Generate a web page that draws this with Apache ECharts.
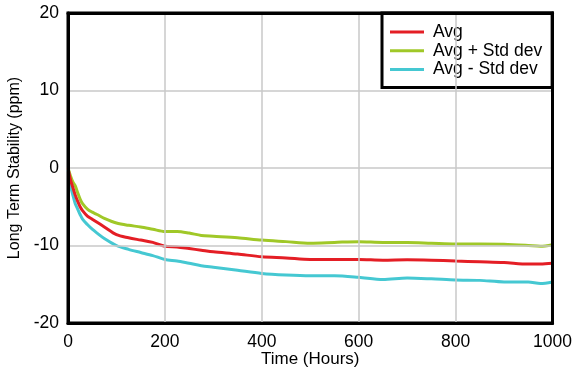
<!DOCTYPE html>
<html>
<head>
<meta charset="utf-8">
<script src="https://cdn.jsdelivr.net/npm/echarts@6/dist/echarts.min.js"></script>
<style>
html,body{margin:0;padding:0;background:#fff;}
#chart{width:577px;height:370px;}
</style>
</head>
<body>
<div id="chart"></div>
<script>
const hours = [0,5,10,15,20,25,30,40,50,60,75,100,125,150,175,200,225,250,275,300,350,400,450,500,550,600,650,700,750,800,850,900,950,975,1000];
const avg = [0,-1.5,-2.5,-3.5,-4.3,-5.0,-5.5,-6.2,-6.6,-7.0,-7.6,-8.6,-9.0,-9.3,-9.6,-10.1,-10.2,-10.4,-10.6,-10.8,-11.1,-11.45,-11.6,-11.8,-11.8,-11.8,-11.9,-11.85,-11.9,-12.0,-12.1,-12.2,-12.4,-12.4,-12.3];
const avgPlus = [0,-1.0,-1.8,-2.3,-3.2,-4.0,-4.6,-5.3,-5.7,-6.0,-6.5,-7.1,-7.4,-7.6,-7.9,-8.2,-8.2,-8.4,-8.7,-8.8,-9.0,-9.3,-9.5,-9.7,-9.6,-9.5,-9.6,-9.6,-9.7,-9.8,-9.8,-9.85,-10.0,-10.1,-9.9];
const avgMinus = [0,-2.2,-3.5,-4.6,-5.3,-6.0,-6.6,-7.3,-7.9,-8.4,-9.1,-10.0,-10.5,-10.9,-11.3,-11.8,-12.0,-12.3,-12.6,-12.8,-13.2,-13.6,-13.8,-13.9,-13.9,-14.1,-14.4,-14.2,-14.3,-14.45,-14.5,-14.7,-14.7,-14.9,-14.7];
const seriesNames = ['Avg','Avg + Std dev','Avg - Std dev'];
const xTicks = [0,200,400,600,800,1000];
const yTicks = [-20,-10,0,10,20];

const pair = (ys) => hours.map((h,i)=>[h, ys[i]]);
const font = '"Liberation Sans", Arial, sans-serif';
const frameLine = {show:true, onZero:false, lineStyle:{color:'#000', width:3}};
const chart = echarts.init(document.getElementById('chart'), null, {renderer:'canvas'});
chart.setOption({
  animation:false,
  backgroundColor:'#fff',
  textStyle:{fontFamily:font, color:'#000'},
  grid:{left:68, top:13, right:24.5, bottom:47, containLabel:false, outerBoundsMode:'none',
        show:true, borderColor:'#000', borderWidth:3, backgroundColor:'transparent'},
  legend:{
    orient:'vertical', left:382, top:13,
    backgroundColor:'#fff', borderColor:'#000', borderWidth:3,
    padding:[10,10,9,8],
    itemWidth:34, itemHeight:3, itemGap:0.7,
    icon:'rect',
    textStyle:{fontFamily:font, fontSize:17.5, lineHeight:18, color:'#000', padding:[0,0,0,4]},
    data:seriesNames
  },
  xAxis:[{
    type:'value', min:xTicks[0], max:xTicks[xTicks.length-1], interval:200,
    name:'Time (Hours)', nameLocation:'middle', nameGap:28, nameMoveOverlap:false,
    nameTextStyle:{fontFamily:font, fontSize:17, color:'#000'},
    axisLine:frameLine, axisTick:{show:false}, z:5,
    axisLabel:{fontFamily:font, fontSize:17.5, color:'#000', margin:10, formatter:(v)=>String(v)},
    splitLine:{show:true, showMinLine:false, showMaxLine:false, lineStyle:{color:'#c8c8c8', width:1.5}}
  },{
    type:'value', position:'top', min:xTicks[0], max:xTicks[xTicks.length-1], interval:200,
    axisLine:frameLine, axisTick:{show:false}, axisLabel:{show:false}, splitLine:{show:false}, z:5
  }],
  yAxis:[{
    type:'value', min:yTicks[0], max:yTicks[yTicks.length-1], interval:10,
    name:'Long Term Stability (ppm)', nameLocation:'middle', nameGap:45.5,
    nameTextStyle:{fontFamily:font, fontSize:16, color:'#000'},
    axisLine:frameLine, axisTick:{show:false}, z:5,
    axisLabel:{fontFamily:font, fontSize:17.5, color:'#000', margin:9},
    splitLine:{show:true, showMinLine:false, showMaxLine:false, lineStyle:{color:'#c8c8c8', width:1.5}}
  },{
    type:'value', position:'right', min:yTicks[0], max:yTicks[yTicks.length-1], interval:10,
    axisLine:frameLine, axisTick:{show:false}, axisLabel:{show:false}, splitLine:{show:false}, z:5
  }],
  series:[
    {name:seriesNames[0], type:'line', data:pair(avg), symbol:'none', smooth:0.3, lineStyle:{color:'#e41e25', width:3}, itemStyle:{color:'#e41e25'}, z:4},
    {name:seriesNames[1], type:'line', data:pair(avgPlus), symbol:'none', smooth:0.3, lineStyle:{color:'#a0c828', width:3}, itemStyle:{color:'#a0c828'}, z:3},
    {name:seriesNames[2], type:'line', data:pair(avgMinus), symbol:'none', smooth:0.3, lineStyle:{color:'#45c8d2', width:3}, itemStyle:{color:'#45c8d2'}, z:3}
  ]
});
</script>
</body>
</html>
